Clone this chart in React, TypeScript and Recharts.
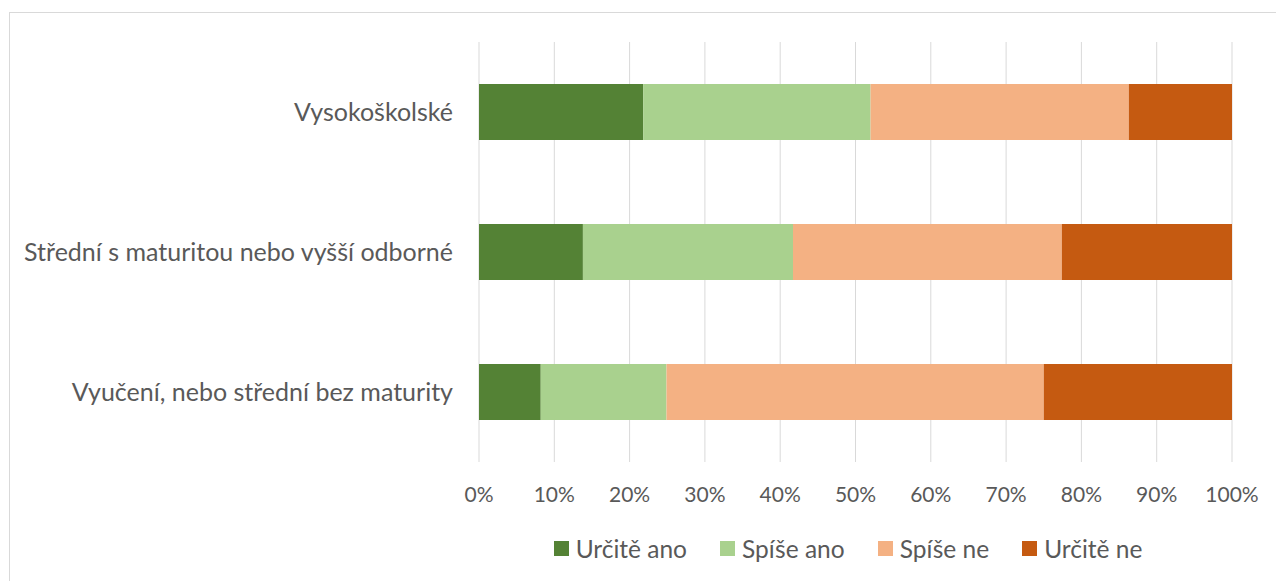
import React from 'react';
import { BarChart, Bar, XAxis, YAxis, CartesianGrid, Legend } from 'recharts';

const categories = [
  'Vysokoškolské',
  'Střední s maturitou nebo vyšší odborné',
  'Vyučení, nebo střední bez maturity',
];

const urciteAno = [21.8, 13.8, 8.2];
const spiseAno = [30.2, 27.9, 16.7];
const spiseNe = [34.3, 35.7, 50.1];
const urciteNe = [13.7, 22.6, 25.0];

const seriesNames = ['Určitě ano', 'Spíše ano', 'Spíše ne', 'Určitě ne'];
const seriesColors = ['#548235', '#A9D18E', '#F4B183', '#C55A11'];
const xTicks = [0, 10, 20, 30, 40, 50, 60, 70, 80, 90, 100];

const data = categories.map((name, i) => ({
  name,
  urciteAno: urciteAno[i],
  spiseAno: spiseAno[i],
  spiseNe: spiseNe[i],
  urciteNe: urciteNe[i],
}));

const keys = ['urciteAno', 'spiseAno', 'spiseNe', 'urciteNe'];

const FONT = 'Lato, "Open Sans", sans-serif';
const TEXT = '#595959';

const LegendContent = () => (
  <div style={{ display: 'flex', justifyContent: 'center', fontFamily: FONT, fontSize: 24.5, color: TEXT }}>
    {seriesNames.map((n, i) => (
      <div key={n} style={{ display: 'flex', alignItems: 'center', marginRight: i < seriesNames.length - 1 ? 33 : 0 }}>
        <span style={{ width: 15, height: 15, background: seriesColors[i], marginRight: 7, display: 'inline-block' }} />
        <span>{n}</span>
      </div>
    ))}
  </div>
);

export default function App() {
  return (
    <div style={{ position: 'absolute', left: 0, top: 0, width: 1276, height: 581, overflow: 'hidden', background: '#fff' }}>
      <div style={{ position: 'absolute', left: 9, top: 12, width: 1300, height: 600, border: '1px solid #d9d9d9' }} />
      <div style={{ position: 'absolute', left: 0, top: 0 }}>
        <BarChart
          width={1276}
          height={581}
          data={data}
          layout="vertical"
          margin={{ top: 42, right: 44, left: 0, bottom: 69 }}
          barCategoryGap="30%"
        >
          <CartesianGrid horizontal={false} stroke="#d9d9d9" strokeWidth={1} />
          <XAxis
            type="number"
            domain={[0, 100]}
            ticks={xTicks}
            tickFormatter={(v) => `${v}%`}
            axisLine={false}
            tickLine={false}
            tickSize={0}
            tickMargin={25}
            height={50}
            tick={{ fill: TEXT, fontSize: 21, fontFamily: FONT }}
            interval={0}
          />
          <YAxis
            type="category"
            dataKey="name"
            width={479}
            axisLine={false}
            tickLine={false}
            tickSize={0}
            tickMargin={26}
            tick={{ fill: TEXT, fontSize: 25, fontFamily: FONT }}
            interval={0}
          />
          <Legend
            layout="horizontal"
            verticalAlign="middle"
            align="center"
            content={<LegendContent />}
            wrapperStyle={{ top: 534, left: 460, width: 776, height: 32 }}
          />
          {keys.map((k, i) => (
            <Bar key={k} dataKey={k} name={seriesNames[i]} stackId="a" fill={seriesColors[i]} isAnimationActive={false} />
          ))}
        </BarChart>
      </div>
    </div>
  );
}
